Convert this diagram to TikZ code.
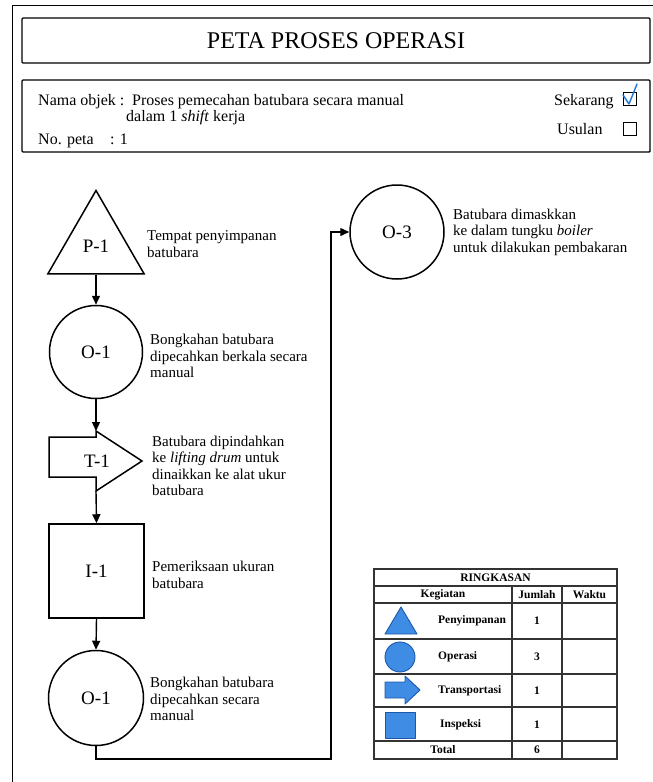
\documentclass[tikz,border=0pt]{standalone}
\usepackage{fontspec}
\setmainfont{Liberation Serif}
\usetikzlibrary{arrows.meta,shapes.geometric}
\definecolor{iconfill}{RGB}{62,140,228}
\definecolor{icondraw}{RGB}{28,88,170}
\definecolor{checkblue}{RGB}{30,120,220}
\begin{document}
\begin{tikzpicture}[x=1pt,y=-1pt,
  proc/.style={draw, line width=1.5pt, inner sep=0pt, font=\fontsize{19}{20}\selectfont},
  flow/.style={line width=1.4pt, -{Triangle[length=9pt,width=8pt]}},
  lbl/.style={anchor=west, align=left, inner sep=0pt, font=\fontsize{15}{16.5}\selectfont},
  info/.style={anchor=base west, inner sep=0pt, font=\fontsize{16}{17}\selectfont},
  boxframe/.style={draw, line width=1.4pt, rounded corners=1pt},
  tabline/.style={draw=black!80, line width=1.2pt},
  tabtxt/.style={inner sep=0pt, font=\bfseries\fontsize{11.5}{13}\selectfont},
  icon/.style={fill=iconfill, draw=icondraw, line width=0.9pt, line join=round}
]
\useasboundingbox (0,0) rectangle (653,782);

% outer frame (top and left visible)
\draw[line width=1pt] (12,782) -- (12,5) -- (653,5);

% title box
\draw[boxframe] (22,18) rectangle (650,63);
\node[inner sep=0pt, font=\fontsize{24}{26}\selectfont] (title) at (336,41) {PETA PROSES OPERASI};

% info box
\draw[boxframe] (22,80) rectangle (650,152);
\node[info] (nama) at (38,105) {Nama objek :};
\node[info] (proses) at (132,105) {Proses pemecahan batubara secara manual};
\node[info] (dalam) at (126,121) {dalam 1 \textit{shift} kerja};
\node[info] (nopeta) at (38,144) {No. peta};
\node[info] (nopval) at (110,144) {: 1};
\node[info] (sek) at (554,105) {Sekarang};
\node[info] (usul) at (557,134) {Usulan};
\node[draw, line width=1.3pt, minimum size=13pt, inner sep=0pt] (cb1) at (630,99) {};
\node[draw, line width=1.3pt, minimum size=13pt, inner sep=0pt] (cb2) at (630,129) {};
\coordinate (chkA) at (623,95);
\coordinate (chkB) at (629,104);
\coordinate (chkC) at (637,84);
\draw[checkblue, line width=1.4pt, line cap=round, line join=round] (chkA) -- (chkB) -- (chkC);

% process chart
\node[regular polygon, regular polygon sides=3, minimum size=111pt, proc] (p1) at (96,246) {P-1};
\node[circle, proc, minimum size=93pt] (o1) at (96,352) {O-1};
\node[inner sep=0pt, font=\fontsize{19}{20}\selectfont] (t1) at (97,461) {T-1};
\draw[line width=1.5pt, line join=miter] (49,437) -- (96,437) -- (96,431) -- (142,461) -- (96,491) -- (96,477) -- (49,477) -- cycle;
\coordinate (t1in) at (96,431);
\coordinate (t1out) at (96,491);
\node[rectangle, proc, minimum width=95pt, minimum height=94pt] (i1) at (96.5,571) {I-1};
\node[circle, proc, minimum size=95pt] (o2) at (96,698) {O-1};
\node[circle, proc, minimum size=94pt] (o3) at (397,232) {O-3};

\draw[flow] (p1.side 2) -- (o1.north);
\draw[flow] (o1.south) -- (t1in);
\draw[flow] (t1out) -- (i1.north);
\draw[flow] (i1.south) -- (o2.north);
\coordinate (turn) at (331,759);
\draw[flow] (o2.south) |- (turn) |- (o3.west);

% labels
\node[lbl] (lp1) at (147,244) {Tempat penyimpanan\\batubara};
\node[lbl] (lo1) at (150,356) {Bongkahan batubara\\dipecahkan berkala secara\\manual};
\node[lbl] (lt1) at (152,466) {Batubara dipindahkan\\ke \textit{lifting drum} untuk\\dinaikkan ke alat ukur\\batubara};
\node[lbl] (li1) at (152,575) {Pemeriksaan ukuran\\batubara};
\node[lbl] (lo2) at (150,699) {Bongkahan batubara\\dipecahkan secara\\manual};
\node[lbl] (lo3) at (453,232) {Batubara dimaskkan\\ke dalam tungku \textit{boiler}\\untuk dilakukan pembakaran};

% summary table
\draw[tabline] (374,569) rectangle (617,759);
\foreach \yy in {586,603,639,674,707,741} \draw[tabline] (374,\yy) -- (617,\yy);
\draw[tabline] (512,586) -- (512,759);
\draw[tabline] (562,586) -- (562,759);
\node[tabtxt] (ring) at (495.5,578) {RINGKASAN};
\node[tabtxt] (keg) at (443,595) {Kegiatan};
\node[tabtxt] (jml) at (537,595) {Jumlah};
\node[tabtxt] (wkt) at (589.5,595) {Waktu};
\draw[icon] (385,634) -- (401,607) -- (417,634) -- cycle;
\draw[icon] (400,657) circle (15);
\draw[icon] (385,682) -- (405,682) -- (405,676) -- (420,690) -- (405,704) -- (405,698) -- (385,698) -- cycle;
\draw[icon] (385,712) rectangle (415,738);
\node[tabtxt, anchor=west] (pen) at (438,621) {Penyimpanan};
\node[tabtxt, anchor=west] (ope) at (438,657) {Operasi};
\node[tabtxt, anchor=west] (tra) at (438,691) {Transportasi};
\node[tabtxt, anchor=west] (ins) at (440,725) {Inspeksi};
\node[tabtxt] (n1) at (537,621) {1};
\node[tabtxt] (n2) at (537,657) {3};
\node[tabtxt] (n3) at (537,691) {1};
\node[tabtxt] (n4) at (537,725) {1};
\node[tabtxt] (tot) at (443,750) {Total};
\node[tabtxt] (ntot) at (537,750) {6};
\end{tikzpicture}
\end{document}
